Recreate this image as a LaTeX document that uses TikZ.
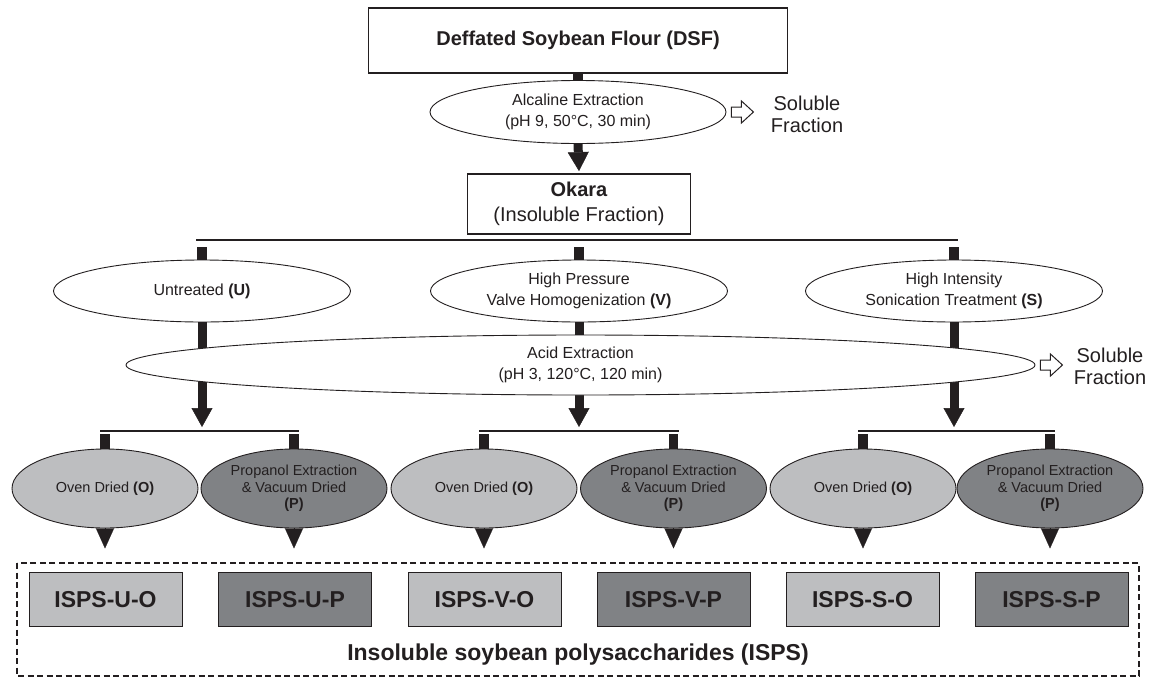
\documentclass[tikz,border=0pt]{standalone}
\usepackage{fontspec}
\setmainfont{Liberation Sans}
\usetikzlibrary{shapes.geometric,arrows.meta,calc}
\definecolor{ink}{HTML}{231F20}
\definecolor{lightg}{HTML}{BDBEC0}
\definecolor{darkg}{HTML}{808285}
\begin{document}
\begin{tikzpicture}[x=1pt,y=-1pt,
  every node/.style={text=ink},
  topbox/.style={draw=ink,line width=1.8pt,fill=white,inner sep=0pt,align=center},
  ell/.style={ellipse,draw=ink,line width=0.9pt,fill=white,inner sep=0pt,align=center,font=\fontsize{16}{20.5}\selectfont},
  sell/.style={ellipse,draw=ink,line width=0.9pt,inner sep=0pt,align=center,minimum width=186pt,minimum height=79pt,font=\fontsize{14.5}{16.5}\selectfont},
  isps/.style={draw=ink,line width=1pt,inner sep=0pt,minimum width=153pt,minimum height=54pt,font=\fontsize{23}{26}\selectfont\bfseries},
  barline/.style={draw=ink,line width=9.5pt},
  bigarrow/.style={draw=ink,line width=9pt,shorten >=17pt,
     postaction={draw=ink,line width=0.5pt,shorten >=0pt,-{Triangle[length=19pt,width=21pt]}}},
  hline/.style={draw=ink,line width=2.3pt},
  tipdown/.style={draw=ink,line width=0.1pt,-{Triangle[length=20pt,width=18pt]}},
  warrow/.style={draw=ink,line width=1pt,fill=white,line join=miter},
  side/.style={align=center,font=\fontsize{20}{22}\selectfont},
  dashbox/.style={draw=ink,line width=2pt,dash pattern=on 6pt off 3.5pt},
]
\useasboundingbox (0,0) rectangle (1151,678);

% ---- top
\node[topbox,minimum width=419pt,minimum height=65pt,font=\fontsize{20}{24}\selectfont\bfseries] (dsf) at (578,40.5) {Deffated Soybean Flour (DSF)};
\node[ell,minimum width=296pt,minimum height=63pt] (alc) at (578,112) {Alcaline Extraction\\(pH 9, 50°C, 30 min)};
\node[topbox,minimum width=223pt,minimum height=60pt,font=\fontsize{20}{25}\selectfont] (ok) at (579,204) {\textbf{Okara}\\(Insoluble Fraction)};
\draw[barline] (dsf.south) -- (dsf.south |- alc.north);
\draw[bigarrow,shorten >=19pt] (alc.south) -- ([yshift=2pt]ok.north);
\draw[warrow] ($(alc.east)+(5,-5)$) -- ++(10,0) -- ++(0,-6) -- ++(12,11) -- ++(-12,11) -- ++(0,-6) -- ++(-10,0) -- cycle;
\node[side] (sf1) at (807,114) {Soluble\\Fraction};

% ---- treatments
\coordinate (hL) at (196,240);
\coordinate (hR) at (958,240);
\draw[hline] (hL) -- (hR);
\node[ell,minimum width=297pt,minimum height=62pt] (U) at (202,291) {Untreated \textbf{(U)}};
\node[ell,minimum width=297pt,minimum height=62pt] (V) at (579,291) {High Pressure\\Valve Homogenization \textbf{(V)}};
\node[ell,minimum width=297pt,minimum height=62pt] (S) at (954,291) {High Intensity\\Sonication Treatment \textbf{(S)}};
\foreach \n in {U,V,S} {\draw[barline] (\n.north) -- ++(0,-13);}

\coordinate (tU) at (U.south |- 0,427);
\coordinate (tV) at (V.south |- 0,427);
\coordinate (tS) at (S.south |- 0,427);
\draw[bigarrow] (U.south) -- (tU);
\draw[bigarrow] (V.south) -- (tV);
\draw[bigarrow] (S.south) -- (tS);

\node[ell,minimum width=909pt,minimum height=60pt] (acid) at (580.5,365) {Acid Extraction\\(pH 3, 120°C, 120 min)};
\draw[warrow] ($(acid.east)+(5,-5)$) -- ++(10,0) -- ++(0,-6) -- ++(12,11) -- ++(-12,11) -- ++(0,-6) -- ++(-10,0) -- cycle;
\node[side] (sf2) at (1110,366) {Soluble\\Fraction};

% ---- drying
\node[sell,fill=lightg] (uo) at (105,488.5) {Oven Dried \textbf{(O)}};
\node[sell,fill=darkg] (up) at (294,488.5) {Propanol Extraction\\\& Vacuum Dried\\\textbf{(P)}};
\node[sell,fill=lightg] (vo) at (484,488.5) {Oven Dried \textbf{(O)}};
\node[sell,fill=darkg] (vp) at (673.5,488.5) {Propanol Extraction\\\& Vacuum Dried\\\textbf{(P)}};
\node[sell,fill=lightg] (so) at (863,488.5) {Oven Dried \textbf{(O)}};
\node[sell,fill=darkg] (sp) at (1050,488.5) {Propanol Extraction\\\& Vacuum Dried\\\textbf{(P)}};

\coordinate (lU1) at (100,431); \coordinate (lU2) at (299,431);
\coordinate (lV1) at (479,431); \coordinate (lV2) at (678.5,431);
\coordinate (lS1) at (858,431); \coordinate (lS2) at (1055,431);
\draw[hline] (lU1) -- (lU2);
\draw[hline] (lV1) -- (lV2);
\draw[hline] (lS1) -- (lS2);
\foreach \n in {uo,up,vo,vp,so,sp} {\draw[barline] (\n.north) -- ++(0,-15);}

% ---- products
\node[isps,fill=lightg] (iuo) at (105.5,599.5) {ISPS-U-O};
\node[isps,fill=darkg]  (iup) at (295,599.5) {ISPS-U-P};
\node[isps,fill=lightg] (ivo) at (484.5,599.5) {ISPS-V-O};
\node[isps,fill=darkg]  (ivp) at (673.5,599.5) {ISPS-V-P};
\node[isps,fill=lightg] (iso) at (862.5,599.5) {ISPS-S-O};
\node[isps,fill=darkg]  (isp) at (1051.5,599.5) {ISPS-S-P};
\foreach \a in {uo,up,vo,vp,so,sp} {\draw[tipdown] (\a.south) -- ++(0,20);}

\draw[dashbox] (17,563) rectangle (1139,676);
\node[font=\fontsize{23}{26}\selectfont\bfseries] (isps) at (578,655) {Insoluble soybean polysaccharides (ISPS)};
\end{tikzpicture}
\end{document}
